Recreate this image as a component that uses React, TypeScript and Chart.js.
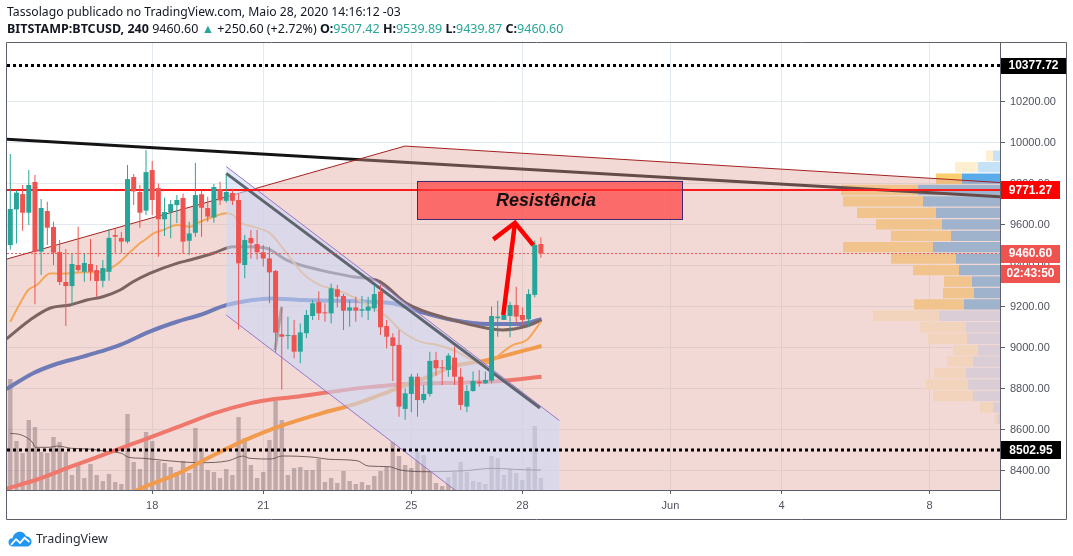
import React, { useEffect, useRef } from "react";
import { Chart, registerables } from "chart.js";

Chart.register(...registerables);

// ---------------- data ----------------
const firstCandleDay = 14 + 4 / 24; // 14 May, 04:00 (day-of-May units)
const candleStep = 4 / 24; // 4h candles

const opens = [
  9502, 9676, 9751, 9660, 9810, 9470, 9668, 9590, 9468, 9322,
  9302, 9405, 9372, 9410, 9380, 9328, 9372, 9551, 9537, 9519,
  9834, 9761, 9670, 9868, 9780, 9628, 9663, 9697, 9732, 9523,
  9562, 9750, 9683, 9637, 9775, 9718, 9756, 9722, 9405, 9537,
  9507, 9467, 9437, 9376, 9067, 9058, 9063, 8982, 9072, 9156,
  9224, 9172, 9169, 9286, 9254, 9182, 9198, 9182, 9182, 9194,
  9275, 9107, 9052, 9015, 8703, 8776, 8860, 8746, 8776, 8941,
  8904, 8893, 8953, 8860, 8714, 8790, 8836, 8828, 8841, 9145,
  9137, 9156, 9210, 9161, 9140, 9259, 9507.42,
];
const highs = [
  9946, 9771, 9795, 9868, 9844, 9727, 9714, 9616, 9527, 9483,
  9458, 9592, 9458, 9532, 9405, 9429, 9580, 9580, 9566, 9893,
  9849, 9795, 9966, 9912, 9803, 9733, 9722, 9746, 9754, 9616,
  9902, 9771, 9738, 9800, 9811, 9844, 9777, 9754, 9551, 9576,
  9576, 9502, 9494, 9380, 9194, 9153, 9137, 9120, 9185, 9234,
  9275, 9218, 9315, 9307, 9263, 9234, 9250, 9254, 9250, 9307,
  9307, 9137, 9072, 9088, 8803, 8873, 8876, 8819, 8982, 8982,
  8941, 8974, 9007, 8901, 8819, 8885, 8893, 8885, 9202, 9231,
  9202, 9226, 9299, 9198, 9286, 9524, 9539.89,
];
const lows = [
  9481, 9510, 9572, 9600, 9214, 9356, 9502, 9405, 9307, 9107,
  9210, 9372, 9323, 9328, 9250, 9296, 9328, 9465, 9465, 9510,
  9697, 9587, 9649, 9649, 9445, 9546, 9535, 9608, 9462, 9454,
  9543, 9543, 9616, 9611, 9697, 9710, 9697, 9090, 9340, 9437,
  9432, 9397, 9218, 8977, 8798, 8994, 8950, 8925, 9047, 9137,
  9137, 9128, 9120, 9198, 9088, 9104, 9128, 9150, 9137, 9177,
  9063, 8998, 8839, 8665, 8650, 8686, 8665, 8730, 8763, 8865,
  8820, 8860, 8820, 8698, 8686, 8787, 8811, 8824, 8828, 9055,
  9137, 9052, 9120, 9112, 9104, 9247, 9439.87,
];
const closes = [
  9678, 9758, 9660, 9795, 9470, 9683, 9587, 9465, 9322, 9302,
  9410, 9380, 9415, 9372, 9327, 9390, 9537, 9543, 9519, 9824,
  9764, 9660, 9858, 9722, 9628, 9663, 9702, 9722, 9519, 9559,
  9746, 9684, 9641, 9785, 9720, 9761, 9718, 9413, 9527, 9511,
  9467, 9437, 9369, 9075, 9055, 9063, 8982, 9076, 9161, 9218,
  9169, 9169, 9291, 9250, 9182, 9198, 9182, 9189, 9202, 9263,
  9101, 9055, 9010, 8714, 8779, 8860, 8746, 8776, 8937, 8901,
  8901, 8963, 8860, 8722, 8790, 8839, 8828, 8844, 9156, 9153,
  9161, 9210, 9153, 9137, 9263, 9503, 9460.6,
];
// volume (relative units)
const volumes = [
  111, 49, 37, 70, 63, 38, 37, 53, 48, 38,
  15, 25, 12, 26, 15, 9, 16, 8, 6, 76,
  28, 21, 58, 49, 29, 27, 23, 18, 29, 17,
  62, 42, 20, 18, 12, 21, 15, 73, 52, 25,
  12, 18, 50, 89, 70, 15, 22, 23, 20, 20,
  31, 8, 12, 7, 19, 9, 6, 8, 5, 14,
  19, 23, 48, 34, 25, 22, 38, 35, 19, 7,
  4, 13, 18, 28, 18, 9, 8, 6, 34, 32,
  15, 21, 17, 10, 23, 64, 12,
];
// [candle index, value]
const volumeMA: [number, number][] = [
  [0, 56.7], [1.8, 55], [3.5, 48.3], [4.1, 42.7], [6.4, 42.7], [7.6, 44], [9.9, 41.7],
  [13.4, 40.7], [15.7, 38.3], [18, 36.7], [19.2, 32.7], [21.5, 31.7], [23.2, 30.7],
  [27.3, 28.3], [30.7, 27.3], [35.4, 29.3], [37.7, 34], [38.8, 31.7], [42.3, 31], [44, 34],
  [49.3, 32.7], [51.6, 30.7], [56.2, 29.3], [58, 24], [61.4, 23.3], [63.2, 20], [67.8, 18.3],
  [73.6, 19.3], [78.2, 21.7], [81.7, 20.7], [85.2, 20], [86, 20],
];
const maFast: [number, number][] = [
  [0, 9128], [1.6, 9218], [2.9, 9283], [4.3, 9307], [6.4, 9364], [9.1, 9364], [11.8, 9370],
  [14.5, 9369], [16.7, 9397], [17.8, 9421], [18.9, 9454], [19.9, 9481], [21, 9511], [21.8, 9527],
  [23.2, 9559], [24.8, 9576], [27, 9600], [29.1, 9592], [30.8, 9616], [32.9, 9640], [35.1, 9657],
  [36.1, 9649], [37.2, 9612], [39.3, 9592], [42.1, 9559], [44.8, 9462], [47.4, 9364], [50.2, 9307],
  [53, 9283], [55.5, 9250], [58.3, 9202], [61, 9153], [63.2, 9088], [66.4, 9031], [69.2, 9015],
  [71.8, 8990], [75, 8941], [77.3, 8925], [79.9, 8982], [81.5, 9015], [83.7, 9039], [86, 9128],
];
const maBrown: [number, number][] = [
  [-0.6, 9045], [3.2, 9137], [6.4, 9194], [9.7, 9210], [12.4, 9234], [15, 9250], [17.8, 9283],
  [19.9, 9323], [22.6, 9364], [27, 9413], [29.1, 9429], [32.9, 9462], [36.1, 9494], [38.8, 9494],
  [41.6, 9486], [44.8, 9429], [50.2, 9380], [55.5, 9348], [59.9, 9324], [64.2, 9218], [71.7, 9137],
  [77.3, 9096], [79.8, 9088], [83.7, 9107], [86.1, 9137],
];
const maBlue: [number, number][] = [
  [-0.6, 8800], [3.7, 8877], [7, 8917], [11.8, 8958], [14.5, 8982], [17.8, 9015], [22.6, 9080],
  [27, 9128], [30.7, 9161], [35.1, 9210], [39.3, 9234], [42.1, 9242], [47.4, 9234], [52.9, 9231],
  [58.3, 9226], [62, 9218], [66.4, 9177], [71.7, 9137], [77.3, 9117], [82.6, 9117], [86.1, 9140],
];
const maRed: [number, number][] = [
  [-0.6, 8314], [4.1, 8356], [9.8, 8421], [15.7, 8486], [21.5, 8551], [27.3, 8616], [33, 8681],
  [38.8, 8730], [41.8, 8746], [46.3, 8762], [50.4, 8779], [56.2, 8803], [62, 8820], [67.8, 8828],
  [73.5, 8831], [79.4, 8839], [86.1, 8860],
];
const maOrange: [number, number][] = [
  [19, 8280], [20.6, 8307], [27.3, 8389], [33, 8478], [38.8, 8560], [43.5, 8616], [50.4, 8681],
  [56.2, 8730], [62, 8795], [67.8, 8860], [71.7, 8909], [77.3, 8941], [82.6, 8982], [86.1, 9010],
];

// volume profile (visible range): row centre price, up / down volume
const profilePrices = [
  9938, 9882, 9826, 9771, 9715, 9659, 9603, 9547, 9492, 9436, 9380, 9324,
  9268, 9213, 9157, 9101, 9045, 8989, 8934, 8878, 8822, 8766, 8710, 8655,
];
const profileUp = [7, 22, 38, 82, 77, 64, 58, 49, 67, 44, 41, 28, 26, 36, 61, 34, 33, 22, 27, 34, 32, 27, 7, 2];
const profileDown = [7, 23, 26, 77, 80, 79, 66, 60, 90, 65, 46, 28, 31, 50, 66, 46, 39, 25, 26, 32, 42, 40, 13, 3];
// 0: above range, 1: highlighted, 2: value area, 3: outside value area
const profileZone = [0, 0, 1, 2, 2, 2, 2, 2, 2, 2, 2, 2, 2, 2, 3, 3, 3, 3, 3, 3, 3, 3, 3, 3];

// axes
const priceTicks = [8400, 8600, 8800, 9000, 9200, 9400, 9600, 9800, 10000, 10200];
const timeTickValues = [18, 21, 25, 28, 32, 35, 39];
const timeTickLabels = ["18", "21", "25", "28", "Jun", "4", "8"];
const xMin = 14.078;
const xMax = 40.901;
const yMin = 8307.3;
const yMax = 10487.8;

// levels & drawings (day-of-May, price)
const levelTop = 10377.72;
const levelBottom = 8502.95;
const resistanceLevel = 9771.27;
const lastPrice = 9460.6;
const countdown = "02:43:50";
const trendLine: [number, number][] = [[14.0, 10019], [41.0, 9737]];
const wedge: [number, number][] = [[14.0, 9430], [24.83, 9985], [41.0, 9806]];
const channelUpper: [number, number][] = [[20.0, 9885], [29.0, 8646]];
const channelLower: [number, number][] = [[20.0, 9161], [29.0, 7917]];
const channelMid: [number, number][] = [[20.0, 9852], [28.475, 8707]];
const brushStroke: [number, number][] = [[21.317, 8990], [21.498, 9201]];
const arrowShaft: [number, number][] = [[27.484, 9161], [27.8, 9611]];
const arrowHead: [number, number][] = [[27.214, 9530], [27.8, 9611], [28.294, 9502]];
const resistanceBox = { x0: 25.16, x1: 32.33, lo: 9628, hi: 9815 };
const resistanceLabel = "Resistência";

// header
const author = "Tassolago";
const publishedText = " publicado no TradingView.com, Maio 28, 2020 14:16:12 -03";
const symbolText = "BITSTAMP:BTCUSD, 240";
const changeText = "+250.60 (+2.72%)";
const ohlcLabels = ["O:", "H:", "L:", "C:"];
const ohlcValues = ["9507.42", "9539.89", "9439.87", "9460.60"];

// ---------------- helpers ----------------
const dayOf = (i: number) => firstCandleDay + i * candleStep;
const pts = (a: [number, number][]) => a.map(([x, y]) => ({ x, y }));
const idxPts = (a: [number, number][]) => a.map(([i, v]) => ({ x: dayOf(i), y: v }));

const UP = "#26a69a";
const DOWN = "#ef5350";
const FONT = "'Liberation Sans', Arial, sans-serif";

function buildConfig(): any {
  const candleColors = closes.map((c, i) => (c >= opens[i] ? UP : DOWN));
  const profUpColors = ["#c6e2f6", "#5aabea", "rgb(117,193,240)", "rgb(217,235,255)"];
  const profDownColors = ["#fdefd0", "#f9cf6b", "rgb(252,220,133)", "rgb(255,247,215)"];

  const line = (data: any[], color: string, width: number, order: number, extra: any = {}) => ({
    type: "line",
    data,
    borderColor: color,
    borderWidth: width,
    pointRadius: 0,
    fill: false,
    order,
    clip: 0,
    ...extra,
  });
  const level = (price: number, color: string, width: number, dash: number[], order: number) =>
    line([{ x: xMin, y: price }, { x: xMax, y: price }], color, width, order, { borderDash: dash });

  const datasets: any[] = [
    {
      type: "bar",
      indexAxis: "y",
      xAxisID: "xProf",
      yAxisID: "y",
      data: profilePrices.map((p, k) => ({ y: p, x: [0, profileUp[k]] })),
      backgroundColor: profileZone.map((z) => profUpColors[z]),
      barThickness: 10.4,
      grouped: false,
      inflateAmount: 0,
      order: 110,
    },
    {
      type: "bar",
      indexAxis: "y",
      xAxisID: "xProf",
      yAxisID: "y",
      data: profilePrices.map((p, k) => ({ y: p, x: [profileUp[k], profileUp[k] + profileDown[k]] })),
      backgroundColor: profileZone.map((z) => profDownColors[z]),
      barThickness: 10.4,
      grouped: false,
      inflateAmount: 0,
      order: 110,
    },
    line(pts(trendLine), "#141414", 3, 100),
    line(pts(wedge), "#a32222", 1, 90, { fill: "start", backgroundColor: "rgba(222,160,150,0.4)" }),
    {
      type: "bar",
      yAxisID: "yVol",
      data: volumes.map((v, i) => ({ x: dayOf(i), y: v })),
      backgroundColor: "rgba(117,98,99,0.4)",
      barThickness: 4.4,
      grouped: false,
      inflateAmount: 0,
      order: 80,
    },
    line(idxPts(volumeMA), "rgba(95,75,75,0.85)", 1, 79, { yAxisID: "yVol", cubicInterpolationMode: "monotone" }),
    line(idxPts(maRed), "#f0776c", 4, 75, { cubicInterpolationMode: "monotone" }),
    line(idxPts(maOrange), "#f29b4c", 4, 74, { cubicInterpolationMode: "monotone" }),
    line(idxPts(maBlue), "#6f7bb6", 4, 73, { cubicInterpolationMode: "monotone" }),
    line(idxPts(maBrown), "#7c6462", 3, 72, { cubicInterpolationMode: "monotone" }),
    line(idxPts(maFast), "#f5a65a", 2, 71, { cubicInterpolationMode: "monotone" }),
    line(pts(channelUpper), "#9575cd", 1, 60, { fill: "+1", backgroundColor: "rgba(202,218,250,0.56)" }),
    line(pts(channelLower), "#9575cd", 1, 59),
    line(pts(channelMid), "#5f6570", 3, 55),
    line(pts(brushStroke), "#aaa4a8", 3, 55),
    level(levelTop, "#000000", 3, [3, 3], 30),
    level(levelBottom, "#000000", 3, [3, 3], 30),
    level(resistanceLevel, "#ff1a1a", 2, [], 30),
    level(lastPrice, DOWN, 1, [2, 2], 30),
    {
      type: "bar",
      data: highs.map((h, i) => ({ x: dayOf(i), y: [lows[i], h] })),
      backgroundColor: candleColors,
      barThickness: 1,
      grouped: false,
      inflateAmount: 0,
      order: 20,
    },
    {
      type: "bar",
      data: opens.map((o, i) => ({ x: dayOf(i), y: [o, closes[i]] })),
      backgroundColor: candleColors,
      barThickness: 5,
      minBarLength: 1,
      grouped: false,
      inflateAmount: 0,
      order: 19,
    },
    line(pts(arrowShaft), "#ff0000", 4.5, 10),
    line(pts(arrowHead), "#ff0000", 4.5, 10),
  ];

  const overlay = {
    id: "tvOverlay",
    afterDatasetsDraw(chart: any) {
      const { ctx } = chart;
      const x = chart.scales.x;
      const y = chart.scales.y;
      const bx0 = x.getPixelForValue(resistanceBox.x0);
      const bx1 = x.getPixelForValue(resistanceBox.x1);
      const by0 = y.getPixelForValue(resistanceBox.hi);
      const by1 = y.getPixelForValue(resistanceBox.lo);
      ctx.save();
      ctx.fillStyle = "rgba(255,60,58,0.7)";
      ctx.fillRect(bx0, by0, bx1 - bx0, by1 - by0);
      ctx.strokeStyle = "#3e2a73";
      ctx.lineWidth = 1;
      ctx.strokeRect(Math.round(bx0) + 0.5, Math.round(by0) + 0.5, Math.round(bx1 - bx0), Math.round(by1 - by0));
      ctx.fillStyle = "#111111";
      ctx.font = `italic bold 18px ${FONT}`;
      ctx.textAlign = "center";
      ctx.textBaseline = "middle";
      ctx.fillText(resistanceLabel, (bx0 + bx1) / 2 - 4, (by0 + by1) / 2 + 1);
      ctx.restore();
    },
    afterDraw(chart: any) {
      const { ctx, chartArea } = chart;
      const y = chart.scales.y;
      const xs = chart.scales.x;
      ctx.save();
      ctx.strokeStyle = "#5d606b";
      ctx.lineWidth = 1;
      const L = chartArea.left - 0.5;
      const T = chartArea.top - 0.5;
      const R = chartArea.right + 0.5;
      const B = chartArea.bottom + 0.5;
      const OR = y.right + 0.5;
      const OB = xs.bottom + 0.5;
      ctx.beginPath();
      ctx.rect(L, T, OR - L, OB - T);
      ctx.moveTo(R, T);
      ctx.lineTo(R, OB);
      ctx.moveTo(L, B);
      ctx.lineTo(R, B);
      ctx.stroke();

      const tag = (cy: number, text: string, bg: string, h: number, w: number) => {
        ctx.fillStyle = bg;
        ctx.fillRect(chartArea.right + 1, Math.round(cy - h / 2), w, h);
        ctx.fillStyle = "#ffffff";
        ctx.font = `bold 12px ${FONT}`;
        ctx.textAlign = "center";
        ctx.textBaseline = "middle";
        ctx.fillText(text, chartArea.right + 1 + w / 2, cy + 0.5);
      };
      tag(y.getPixelForValue(levelTop), levelTop.toFixed(2), "#000000", 16, 65);
      tag(y.getPixelForValue(resistanceLevel), resistanceLevel.toFixed(2), "#ff0000", 18, 59);
      const lp = y.getPixelForValue(lastPrice);
      tag(lp, lastPrice.toFixed(2), DOWN, 18, 59);
      tag(lp + 20, countdown, DOWN, 18, 59);
      tag(y.getPixelForValue(levelBottom), levelBottom.toFixed(2), "#000000", 18, 60);
      ctx.restore();
    },
  };

  return {
    type: "line",
    data: { datasets },
    plugins: [overlay],
    options: {
      animation: false,
      responsive: false,
      maintainAspectRatio: false,
      events: [],
      layout: { padding: { left: 7, right: 7, top: 43, bottom: 37 } },
      plugins: { legend: { display: false }, tooltip: { enabled: false } },
      scales: {
        x: {
          type: "linear",
          min: xMin,
          max: xMax,
          offset: false,
          afterBuildTicks: (s: any) => {
            s.ticks = timeTickValues.map((v) => ({ value: v }));
          },
          afterFit: (s: any) => {
            s.height = 29;
          },
          ticks: {
            autoSkip: false,
            maxRotation: 0,
            padding: 5,
            color: "#50535e",
            font: { family: FONT, size: 11 },
            callback: (v: any) => timeTickLabels[timeTickValues.indexOf(Number(v))],
          },
          grid: { color: "#e3e9f0", tickColor: "#5d606b", tickLength: 4, offset: false },
          border: { display: false },
        },
        y: {
          type: "linear",
          position: "right",
          min: yMin,
          max: yMax,
          offset: false,
          afterBuildTicks: (s: any) => {
            s.ticks = priceTicks.map((v) => ({ value: v }));
          },
          afterFit: (s: any) => {
            s.width = 66;
          },
          ticks: {
            padding: 5,
            color: "#50535e",
            font: { family: FONT, size: 11 },
            callback: (v: any) => Number(v).toFixed(2),
          },
          grid: { color: "#e3e9f0", tickColor: "#5d606b", tickLength: 5, offset: false },
          border: { display: false },
        },
        yVol: { type: "linear", display: false, min: 0, max: 447, offset: false },
        xProf: { type: "linear", axis: "x", display: false, reverse: true, min: 0, max: 993, offset: false },
      },
    },
  };
}

function Logo() {
  return (
    <svg width="24" height="17" viewBox="0 0 24 17" style={{ display: "block" }}>
      <path
        d="M5 16.5 C2.2 16.5 0.5 14.6 0.5 12.2 C0.5 9.9 2.3 8.2 4.6 8.3 C5.3 4.4 8.3 1.8 11.9 1.8 C14.9 1.8 17.2 3.6 18.1 6.3 C21.1 6.4 23.5 8.8 23.5 11.7 C23.5 14.4 21.3 16.5 18.6 16.5 Z"
        fill="#2196f3"
      />
      <polyline points="3,14.8 8,9.2 12,13 16.5,7.8 21.5,12" fill="none" stroke="#ffffff" strokeWidth="1.8" />
    </svg>
  );
}

export default function App() {
  const ref = useRef<HTMLCanvasElement>(null);
  useEffect(() => {
    const chart = new Chart(ref.current as HTMLCanvasElement, buildConfig());
    return () => chart.destroy();
  }, []);

  const hdr: React.CSSProperties = {
    position: "absolute",
    left: 7,
    whiteSpace: "nowrap",
    fontFamily: "'Noto Sans', sans-serif",
    fontSize: 12.2,
    color: "#131722",
    lineHeight: "16px",
  };
  const green = { color: UP };
  return (
    <div style={{ position: "absolute", left: 0, top: 0, width: 1073, height: 556, background: "#ffffff", overflow: "hidden" }}>
      <canvas ref={ref} width={1073} height={556} style={{ position: "absolute", left: 0, top: 0, width: 1073, height: 556 }} />
      <div style={{ ...hdr, top: 4 }}>
        <span>{author}</span>
        {publishedText}
      </div>
      <div style={{ ...hdr, top: 21, fontSize: 12.5 }}>
        <b>{symbolText}</b> {lastPrice.toFixed(2)} <span style={green}>▲</span> {changeText}{" "}
        {ohlcLabels.map((l, i) => (
          <span key={l}>
            <b>{l}</b>
            <span style={green}>{ohlcValues[i]}</span>{" "}
          </span>
        ))}
      </div>
      <div style={{ position: "absolute", left: 8, top: 530, display: "flex", alignItems: "center", gap: 4 }}>
        <Logo />
        <span style={{ fontFamily: "'Noto Sans', sans-serif", fontSize: 12.5, color: "#2a2e39" }}>TradingView</span>
      </div>
    </div>
  );
}
